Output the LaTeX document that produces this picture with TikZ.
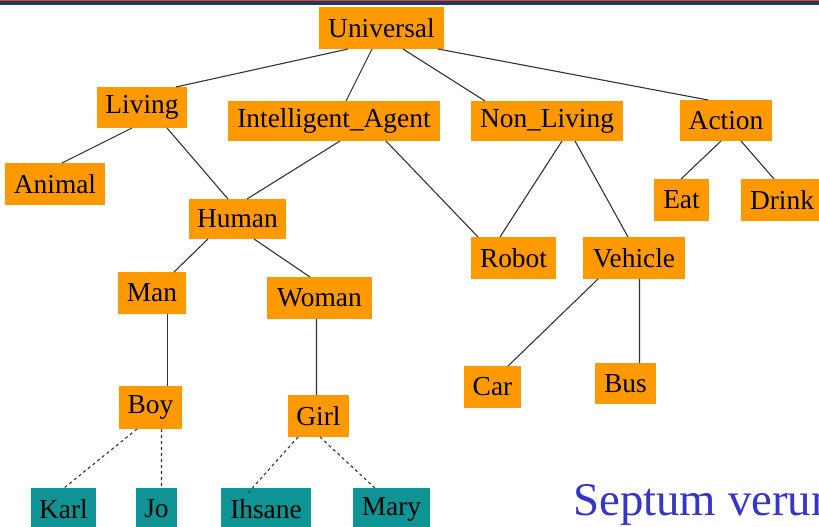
\documentclass[tikz,border=0pt]{standalone}
\usepackage{fontspec}
\setmainfont{Liberation Serif}
\definecolor{boxorange}{HTML}{FF9900}
\definecolor{leafteal}{HTML}{0E9494}
\definecolor{edgegray}{HTML}{333333}
\definecolor{bandred}{HTML}{E4411E}
\definecolor{bandnavy}{HTML}{1B3A68}
\definecolor{titleblue}{HTML}{3535CC}
\begin{document}
\begin{tikzpicture}[x=1bp,y=-1bp,
  concept/.style={fill=boxorange,draw=none,outer sep=0pt,inner sep=0pt,
    minimum height=42bp,text=black,
    font=\fontsize{27.5}{30}\selectfont},
  instance/.style={concept,fill=leafteal},
  link/.style={draw=edgegray,line width=1.1bp},
  member/.style={link,dash pattern=on 3bp off 3bp}]
\useasboundingbox (0,0) rectangle (819,527);
\clip (0,0) rectangle (819,527);
% top band
\fill[bandred] (0,0) rectangle (819,1.4);
\fill[bandnavy] (0,1.4) rectangle (819,5);

% concepts
\node[concept,minimum width=125bp,minimum height=42bp] (u)   at (381.5,28)  {Universal};
\node[concept,minimum width=90bp,minimum height=41bp]  (liv) at (142,107.5) {Living};
\node[concept,minimum width=100bp] (ani) at (55,184)    {Animal};
\node[concept,minimum width=212bp,minimum height=40bp] (ia) at (334,121) {Intelligent\_Agent};
\node[concept,minimum width=152bp,minimum height=40bp] (nl) at (547,121) {Non\_Living};
\node[concept,minimum width=92bp,minimum height=41bp]  (act) at (726,120.5) {Action};
\node[concept,minimum width=97bp,minimum height=40bp]  (hum) at (237.5,219) {Human};
\node[concept,minimum width=85bp]  (rob) at (513.5,258) {Robot};
\node[concept,minimum width=102bp] (veh) at (634,258)   {Vehicle};
\node[concept,minimum width=55bp]  (eat) at (681.5,200) {Eat};
\node[concept,minimum width=82bp]  (dri) at (782,200)   {Drink};
\node[concept,minimum width=68bp]  (man) at (152,293)   {Man};
\node[concept,minimum width=105bp] (wom) at (319.5,298) {Woman};
\node[concept,minimum width=63bp,minimum height=43bp] (boy) at (150.5,407.5) {Boy};
\node[concept,minimum width=61bp]  (girl) at (318.5,416) {Girl};
\node[concept,minimum width=57bp]  (car) at (492.5,387) {Car};
\node[concept,minimum width=61bp,minimum height=41bp] (bus) at (625.5,383.5) {Bus};

% instances
\node[instance,minimum width=65bp] (karl) at (63.5,509)  {Karl};
\node[instance,minimum width=41bp] (jo)   at (156.5,509) {Jo};
\node[instance,minimum width=90bp] (ihs)  at (266,509)   {Ihsane};
\node[instance,minimum width=77bp] (mary) at (391.5,509) {Mary};

% subclass links
\draw[link] ([xshift=29bp]u.south west)   -- ([xshift=79bp]liv.north west);
\draw[link] ([xshift=53bp]u.south west)   -- ([xshift=118bp]ia.north west);
\draw[link] ([xshift=84bp]u.south west)   -- ([xshift=14bp]nl.north west);
\draw[link] ([xshift=119bp]u.south west)  -- ([xshift=28bp]act.north west);
\draw[link] ([xshift=35bp]liv.south west) -- ([xshift=57bp]ani.north west);
\draw[link] ([xshift=70bp]liv.south west) -- ([xshift=39bp]hum.north west);
\draw[link] ([xshift=112bp]ia.south west) -- ([xshift=58bp]hum.north west);
\draw[link] ([xshift=158bp]ia.south west) -- ([xshift=7bp]rob.north west);
\draw[link] ([xshift=91bp]nl.south west)  -- ([xshift=29bp]rob.north west);
\draw[link] ([xshift=104bp]nl.south west) -- ([xshift=45bp]veh.north west);
\draw[link] ([xshift=41bp]act.south west) -- ([xshift=27bp]eat.north west);
\draw[link] ([xshift=61bp]act.south west) -- ([xshift=33bp]dri.north west);
\draw[link] ([xshift=19bp]hum.south west) -- ([xshift=56bp]man.north west);
\draw[link] ([xshift=65bp]hum.south west) -- ([xshift=43bp]wom.north west);
\draw[link] ([xshift=49.5bp]man.south west) -- ([xshift=48.5bp]boy.north west);
\draw[link] ([xshift=49.5bp]wom.south west) -- ([xshift=28.5bp]girl.north west);
\draw[link] ([xshift=15bp]veh.south west) -- ([xshift=44bp]car.north west);
\draw[link] ([xshift=56.5bp]veh.south west) -- ([xshift=44.5bp]bus.north west);

% instance-of links
\draw[member] ([xshift=18bp]boy.south west)  -- ([xshift=33bp]karl.north west);
\draw[member] ([xshift=42.5bp]boy.south west)  -- ([xshift=25.5bp]jo.north west);
\draw[member] ([xshift=10bp]girl.south west) -- ([xshift=26bp,yshift=-6bp]ihs.north west);
\draw[member] ([xshift=32bp]girl.south west) -- ([xshift=24bp,yshift=-2bp]mary.north west);

% caption
\node[anchor=base west,inner sep=0pt,text=titleblue,
  font=\fontsize{47}{50}\selectfont] (cap) at (573,515) {Septum verum};
\end{tikzpicture}
\end{document}
